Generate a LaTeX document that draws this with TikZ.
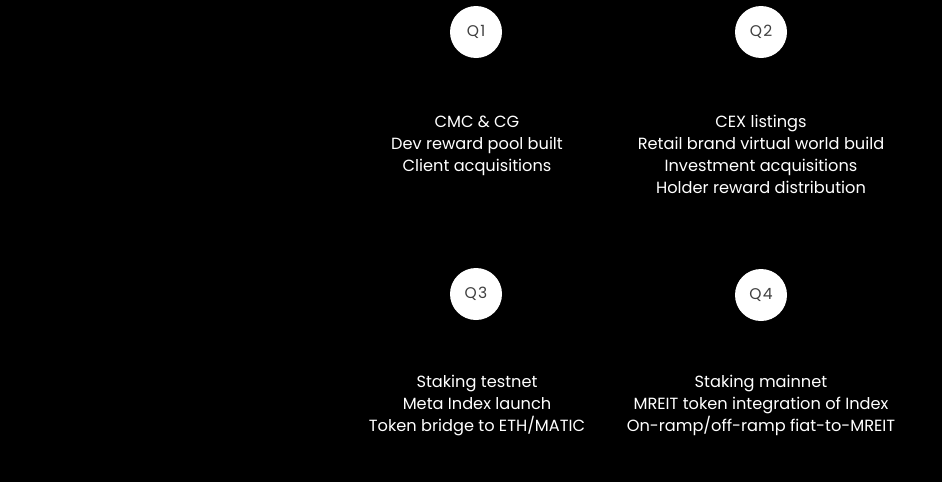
\documentclass[tikz,border=0pt]{standalone}
\usepackage{fontspec}
\setmainfont{Poppins}
\begin{document}
\begin{tikzpicture}[x=1pt,y=-1pt,
  qcircle/.style={circle,fill=white,minimum size=52pt,inner sep=0pt,text=black!75,font=\fontsize{15.5}{15.5}\selectfont\addfontfeatures{LetterSpace=8}},
  qtext/.style={text=white,align=center,font=\fontsize{16.2}{22}\selectfont,anchor=north}]
\fill[black] (0,0) rectangle (942,482);
\useasboundingbox (0,0) rectangle (942,482);
\node[qcircle] (q1) at (476,32) {Q1};
\node[qcircle] (q2) at (761,32) {Q2};
\node[qcircle] (q3) at (476,294) {Q3};
\node[qcircle] (q4) at (761,295) {Q4};
\node[qtext] (t1) at (477,112) {CMC \& CG\\Dev reward pool built\\Client acquisitions};
\node[qtext] (t2) at (761,112) {CEX listings\\Retail brand virtual world build\\Investment acquisitions\\Holder reward distribution};
\node[qtext] (t3) at (477,372) {Staking testnet\\Meta Index launch\\Token bridge to ETH/MATIC};
\node[qtext] (t4) at (761,372) {Staking mainnet\\MREIT token integration of Index\\On-ramp/off-ramp fiat-to-MREIT};
\end{tikzpicture}
\end{document}
